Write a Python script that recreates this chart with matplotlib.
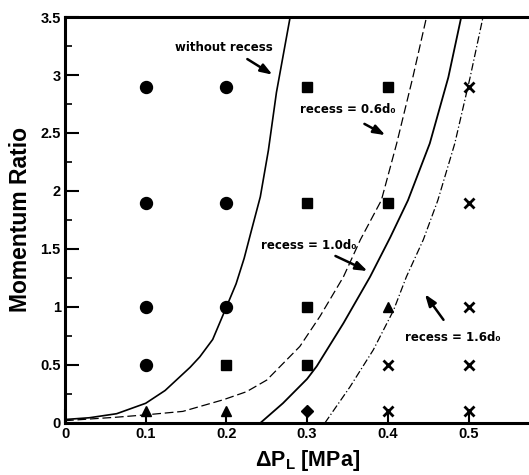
import matplotlib
matplotlib.use("Agg")
import matplotlib.pyplot as plt
import numpy as np

# font setup
plt.rcParams['font.family'] = ['Liberation Sans', 'DejaVu Sans']
plt.rcParams['font.weight'] = 'bold'
plt.rcParams['mathtext.fontset'] = 'custom'
plt.rcParams['mathtext.rm'] = 'Liberation Sans:bold'
plt.rcParams['mathtext.bf'] = 'Liberation Sans:bold'

# boundary curves
x_none = [0, 0.03, 0.064, 0.1, 0.124, 0.155, 0.167, 0.183, 0.2, 0.212, 0.222, 0.231, 0.242, 0.252, 0.262, 0.279]
y_none = [0.03, 0.045, 0.08, 0.17, 0.28, 0.48, 0.57, 0.72, 1.0, 1.2, 1.42, 1.66, 1.95, 2.35, 2.85, 3.5]

x_r06 = [0, 0.064, 0.1, 0.146, 0.196, 0.225, 0.25, 0.291, 0.316, 0.345, 0.366, 0.392, 0.411, 0.431, 0.448]
y_r06 = [0.02, 0.05, 0.07, 0.10, 0.20, 0.27, 0.37, 0.66, 0.92, 1.26, 1.58, 1.92, 2.41, 2.98, 3.5]

x_r10 = [0.242, 0.27, 0.3, 0.312, 0.345, 0.378, 0.403, 0.425, 0.452, 0.475, 0.491]
y_r10 = [0.0, 0.17, 0.38, 0.49, 0.86, 1.26, 1.6, 1.92, 2.41, 2.98, 3.5]

x_r16 = [0.322, 0.353, 0.382, 0.407, 0.423, 0.444, 0.462, 0.483, 0.502, 0.518]
y_r16 = [0.0, 0.31, 0.63, 0.97, 1.26, 1.58, 1.92, 2.41, 2.98, 3.5]

# experimental points
circ_x = [0.1, 0.1, 0.1, 0.1, 0.2, 0.2, 0.2]
circ_y = [2.9, 1.9, 1.0, 0.5, 2.9, 1.9, 1.0]
sq_x = [0.2, 0.3, 0.3, 0.3, 0.3, 0.4, 0.4]
sq_y = [0.5, 2.9, 1.9, 1.0, 0.5, 2.9, 1.9]
tri_x = [0.1, 0.2, 0.4]
tri_y = [0.1, 0.1, 1.0]
dia_x = [0.3]
dia_y = [0.1]
cross_x = [0.4, 0.4, 0.5, 0.5, 0.5, 0.5, 0.5]
cross_y = [0.5, 0.1, 2.9, 1.9, 1.0, 0.5, 0.1]

xticks = [0, 0.1, 0.2, 0.3, 0.4, 0.5]
xticklabels = ['0', '0.1', '0.2', '0.3', '0.4', '0.5']
yticks = [0, 0.5, 1, 1.5, 2, 2.5, 3, 3.5]
yticklabels = ['0', '0.5', '1', '1.5', '2', '2.5', '3', '3.5']

fig = plt.figure(figsize=(5.29, 4.75), dpi=100)
ax = fig.add_axes([0.1229, 0.1095, 0.9153, 0.8547])

ax.plot(x_none, y_none, color='black', lw=1.2)
ax.plot(x_r06, y_r06, color='black', lw=0.9, ls=(0, (7, 3)))
ax.plot(x_r10, y_r10, color='black', lw=1.3)
ax.plot(x_r16, y_r16, color='black', lw=0.9, ls=(0, (6, 2, 1, 2)))

ax.plot(circ_x, circ_y, 'o', color='black', ms=8.6, ls='none')
ax.plot(sq_x, sq_y, 's', color='black', ms=6.8, ls='none')
ax.plot(tri_x, tri_y, '^', color='black', ms=7.5, ls='none')
ax.plot(dia_x, dia_y, 'D', color='black', ms=6.5, ls='none')
ax.plot(cross_x, cross_y, 'x', color='black', ms=7.5, mew=2.0, ls='none')

# annotations (wider bold face, like the scan)
kw = dict(fontsize=8.5, fontweight='bold', ha='center', va='center',
          family=['DejaVu Sans'])
ax.text(0.197, 3.24, 'without recess', **kw)
ax.text(0.351, 2.70, 'recess = 0.6d\u2080', **kw)
ax.text(0.302, 1.53, 'recess = 1.0d\u2080', **kw)
ax.text(0.481, 0.74, 'recess = 1.6d\u2080', **kw)

arr = dict(arrowstyle='-|>,head_length=0.7,head_width=0.25', color='black', lw=1.8)
ax.annotate('', xy=(0.260, 2.99), xytext=(0.223, 3.15), arrowprops=arr)
ax.annotate('', xy=(0.400, 2.47), xytext=(0.368, 2.59), arrowprops=arr)
ax.annotate('', xy=(0.378, 1.30), xytext=(0.332, 1.45), arrowprops=arr)
ax.annotate('', xy=(0.444, 1.13), xytext=(0.471, 0.87), arrowprops=arr)

ax.set_xlim(0, 0.6)
ax.set_ylim(0, 3.5)
ax.set_xticks(xticks)
ax.set_xticklabels(xticklabels, fontsize=10.5, fontweight='bold')
ax.set_yticks(yticks)
ax.set_yticklabels(yticklabels, fontsize=10.5, fontweight='bold')
ax.set_yticks(np.arange(0.25, 3.5, 0.5), minor=True)
ax.tick_params(which='major', direction='in', length=10, width=1.5, pad=3)
ax.tick_params(which='minor', direction='in', length=5, width=1.2)

for side in ['left', 'bottom', 'top']:
    ax.spines[side].set_linewidth(2.2)

ax.set_xlabel(r'$\Delta$P$_\mathrm{L}$ [MPa]', fontsize=15.5, fontweight='bold', labelpad=5)
ax.set_ylabel('Momentum Ratio', fontsize=16.5, fontweight='bold', labelpad=6)

fig.savefig('out.png', dpi=100)
